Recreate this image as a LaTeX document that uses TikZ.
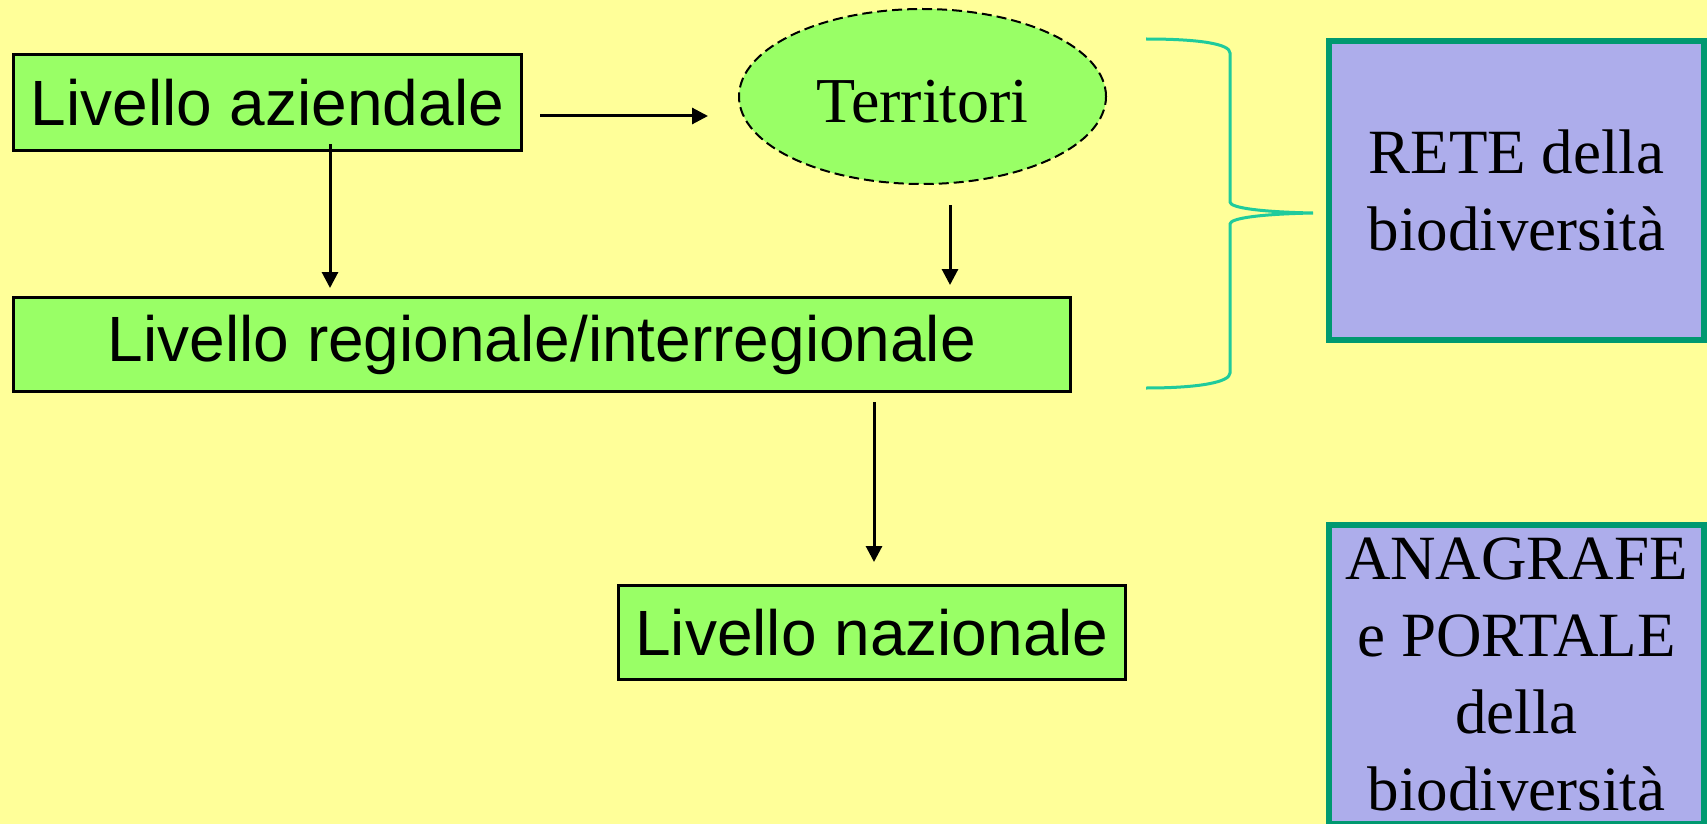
\documentclass[tikz,border=0pt]{standalone}
\usepackage{fontspec}
\setmainfont{Liberation Serif}
\setsansfont{Liberation Sans}
\usetikzlibrary{arrows.meta,shapes.geometric}

\definecolor{bgyellow}{HTML}{FFFF99}
\definecolor{boxgreen}{HTML}{99FF66}
\definecolor{bracecol}{HTML}{1FCB9C}
\definecolor{retefill}{HTML}{ADADEB}
\definecolor{reteborder}{HTML}{009970}

\begin{document}
\begin{tikzpicture}[x=1pt, y=-1pt,
    livbox/.style={draw, line width=3pt, fill=boxgreen, inner sep=0pt,
      font=\sffamily\fontsize{64}{77}\selectfont},
    bluebox/.style={draw=reteborder, line width=6pt, fill=retefill, inner sep=0pt,
      align=center, minimum width=375pt, font=\fontsize{63}{77}\selectfont},
    arr/.style={line width=3pt, -{Triangle[length=16pt,width=16pt]}}]
    \useasboundingbox (0, 0) rectangle (1707, 824);
    \clip (0, 0) rectangle (1707, 824);
    \fill[bgyellow] (0, 0) rectangle (1707, 824);

    \coordinate (colA) at (330, 0);
    \coordinate (colB) at (950, 0);
    \coordinate (colC) at (874, 0);
    \coordinate (rowA) at (0, 116);

    \node[livbox, minimum width=508pt, minimum height=96pt] (az) at (267.5, 102.5) {Livello aziendale};
    \node[livbox, minimum width=1057pt, minimum height=94pt] (reg) at (542, 344.5) {Livello regionale/interregionale};
    \node[livbox, minimum width=507pt, minimum height=94pt] (naz) at (872, 632.5) {Livello nazionale};
    \node[ellipse, draw, line width=2pt, dash pattern=on 10pt off 5pt, fill=boxgreen,
      minimum width=367pt, minimum height=175pt, inner sep=0pt, text height=52pt,
      font=\fontsize{64}{77}\selectfont] (ter) at (922.5, 96.5) {Territori};

    \node[bluebox, minimum height=299pt] (rete) at (1516.5, 190.5) {RETE della\\biodiversità};
    \node[bluebox, minimum height=299pt] (anag) at (1516.5, 674.5) {ANAGRAFE\\e PORTALE\\della\\biodiversità};

    \draw[arr, shorten <=17pt, shorten >=30pt] (az.east |- rowA) -- (ter.west |- rowA);
    \draw[arr, shorten <=-8pt, shorten >=8pt] (az.south -| colA) -- (reg.north -| colA);
    \draw[arr, shorten <=20pt, shorten >=11pt] (ter.south -| colB) -- (reg.north -| colB);
    \draw[arr, shorten <=9pt, shorten >=22pt] (reg.south -| colC) -- (naz.north -| colC);

    % brace towards the RETE box
    \draw[bracecol, line width=3pt]
      (1146, 39) .. controls (1200, 39) and (1230, 44) .. (1230, 53)
      -- (1230, 202) .. controls (1230, 208) and (1262, 212) .. (1313, 213)
      .. controls (1262, 214) and (1230, 218) .. (1230, 224)
      -- (1230, 373) .. controls (1230, 382) and (1200, 388) .. (1146, 388);
\end{tikzpicture}
\end{document}
